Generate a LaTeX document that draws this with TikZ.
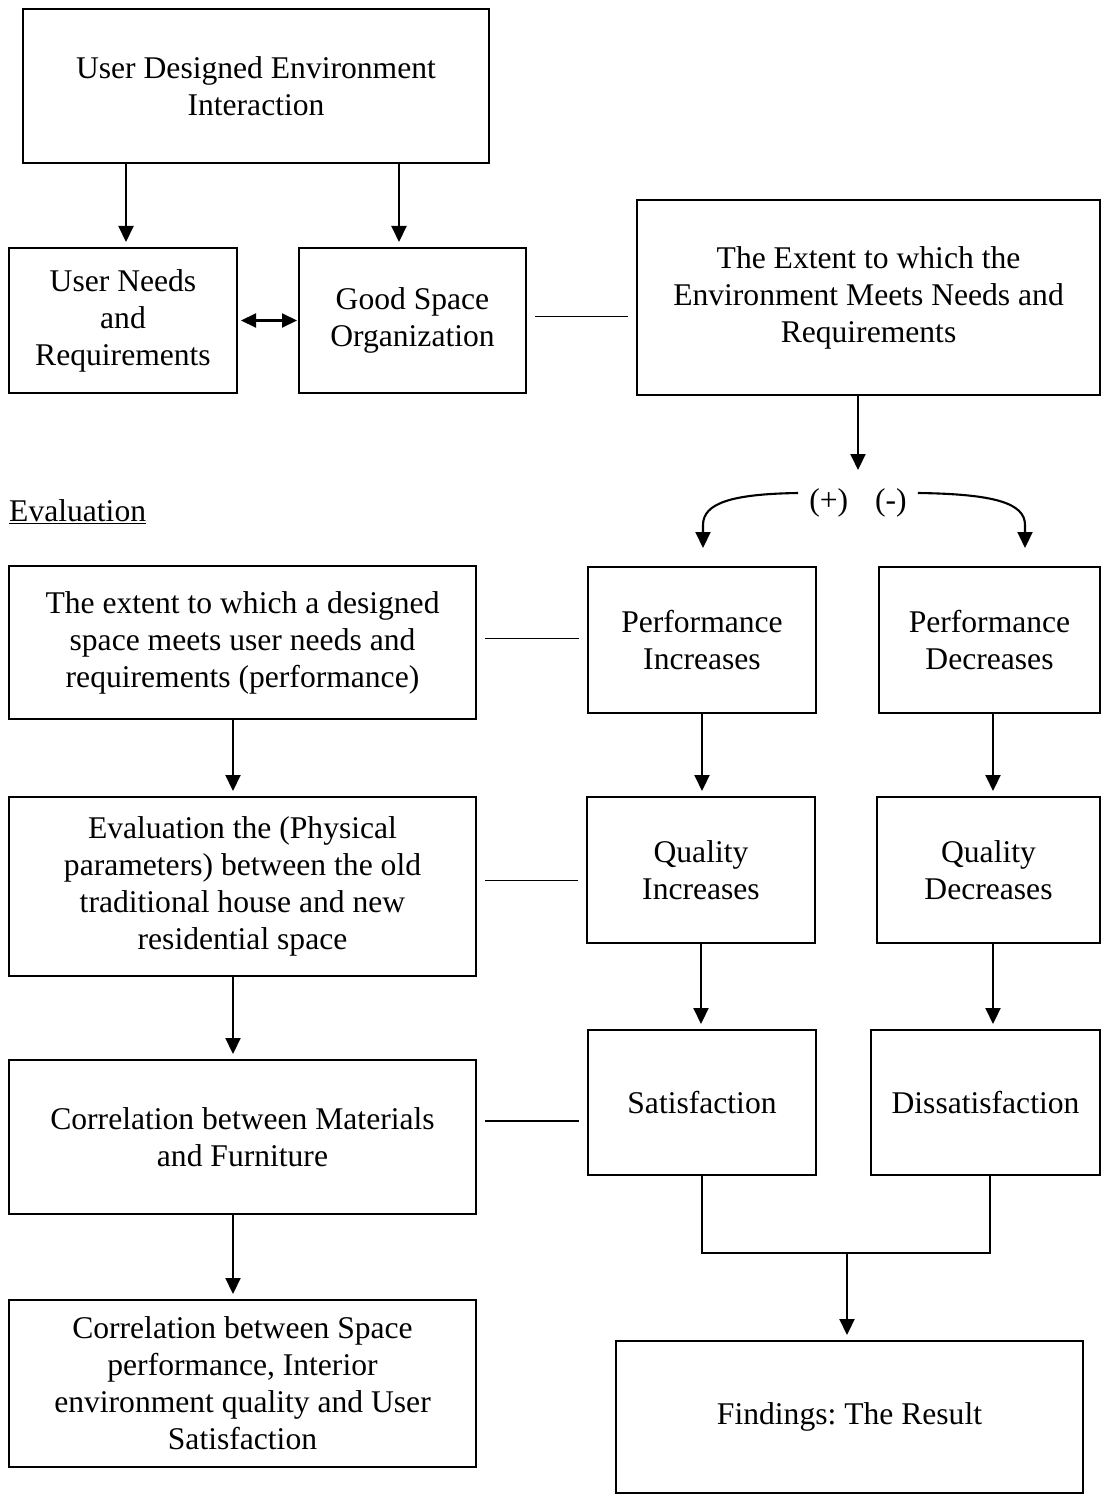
\documentclass[tikz,border=0pt]{standalone}
\usepackage{fontspec}
\setmainfont{Liberation Serif}
\usetikzlibrary{arrows.meta}
\newcommand\boxfont{\fontsize{31.6}{37}\selectfont}
\frenchspacing
\begin{document}
\begin{tikzpicture}[x=1pt,y=-1pt,
  box/.style={draw, line width=2.3pt, inner sep=0pt, outer sep=0pt, align=center, font=\boxfont},
  arr/.style={line width=2.1pt, -{Triangle[width=15pt,length=16pt]}, shorten >=6pt},
  dbl/.style={line width=2.1pt, {Triangle[width=14pt,length=15pt]}-{Triangle[width=14pt,length=15pt]}, shorten >=2pt, shorten <=4pt},
  curv/.style={line width=2.1pt, -{Triangle[width=15pt,length=16pt]}},
  link/.style={line width=1.2pt, shorten <=9pt, shorten >=9pt},
  brk/.style={line width=1.1pt}]
\useasboundingbox (0,0) rectangle (1102,1495);

% top part
\node[box, minimum width=466pt, minimum height=154pt] (ude) at (256,86) {User Designed Environment\\Interaction};
\node[box, minimum width=228pt, minimum height=145pt] (un) at (123,320.5) {User Needs\\and\\Requirements};
\node[box, minimum width=227pt, minimum height=145pt] (gs) at (412.5,320.5) {Good Space\\Organization};
\node[box, minimum width=463pt, minimum height=195pt] (ext) at (868.5,297.5) {The Extent to which the\\Environment Meets Needs and\\Requirements};

\draw[arr] ([xshift=3pt]un.north |- ude.south) -- ([xshift=3pt]un.north);
\draw[arr] ([xshift=-13.5pt]gs.north |- ude.south) -- ([xshift=-13.5pt]gs.north);
\draw[dbl] (un.east) -- (gs.east -| gs.west);
\draw[link] ([yshift=4pt]gs.east) -- ([yshift=4pt]gs.east -| ext.west);

% split
\node[font=\boxfont, inner sep=0pt] (pm) at (858,503) {(+)\hspace{27pt}(-)};
\coordinate (pmtop) at (858,470);
\coordinate (ltip) at (703,548);
\coordinate (rtip) at (1025,548);
\draw[curv] (pm |- ext.south) -- (pmtop);
\draw[curv] ([shift={(-11pt,10pt)}]pm.west) .. controls (732,494) and (703,503) .. (703,525) -- (ltip);
\draw[curv] ([shift={(11pt,10pt)}]pm.east) .. controls (994,494) and (1025,503) .. (1025,525) -- (rtip);

\node[anchor=west, font=\boxfont, inner sep=0pt] (eval) at (9,512) {\underline{Evaluation}};

% left column
\node[box, minimum width=467pt, minimum height=153pt] (b5) at (242.5,642.5) {The extent to which a designed\\space meets user needs and\\requirements (performance)};
\node[box, minimum width=467pt, minimum height=179pt] (b6) at (242.5,886.5) {Evaluation the (Physical\\parameters) between the old\\traditional house and new\\residential space};
\node[box, minimum width=467pt, minimum height=154pt] (b7) at (242.5,1137) {Correlation between Materials\\and Furniture};
\node[box, minimum width=467pt, minimum height=167pt] (b8) at (242.5,1383.5) {Correlation between Space\\performance, Interior\\environment quality and User\\Satisfaction};

\draw[arr] ([xshift=-9.5pt]b5.south) -- ([xshift=-9.5pt]b6.north);
\draw[arr] ([xshift=-9.5pt]b6.south) -- ([xshift=-9.5pt]b7.north);
\draw[arr] ([xshift=-9.5pt]b7.south) -- ([xshift=-9.5pt]b8.north);

% middle column
\node[box, minimum width=228pt, minimum height=146pt] (pinc) at (702,640) {Performance\\Increases};
\node[box, minimum width=228pt, minimum height=146pt] (qinc) at (701,870) {Quality\\Increases};
\node[box, minimum width=228pt, minimum height=145pt] (sat) at (702,1102.5) {Satisfaction};

% right column
\node[box, minimum width=221pt, minimum height=146pt] (pdec) at (989.5,640) {Performance\\Decreases};
\node[box, minimum width=223pt, minimum height=146pt] (qdec) at (988.5,870) {Quality\\Decreases};
\node[box, minimum width=229pt, minimum height=145pt] (dis) at (985.5,1102.5) {Dissatisfaction};

\draw[arr] (pinc.south) -- (pinc.south |- qinc.north);
\draw[arr] (qinc.south) -- (qinc.south |- sat.north);
\draw[arr] ([xshift=3.5pt]pdec.south) -- ([xshift=3.5pt]pdec.south |- qdec.north);
\draw[arr] ([xshift=4.5pt]qdec.south) -- ([xshift=4.5pt]qdec.south |- dis.north);

% horizontal links
\draw[link] ([yshift=4pt]b5.east) -- ([yshift=4pt]b5.east -| pinc.west);
\draw[link] ([yshift=6pt]b6.east) -- ([yshift=6pt]b6.east -| qinc.west);
\draw[link] ([yshift=16pt]b7.east) -- ([yshift=16pt]b7.east -| sat.west);

% findings
\node[box, minimum width=467pt, minimum height=152pt] (find) at (849.5,1417) {Findings: The Result};
\coordinate (join) at (847,1253);
\draw[brk] (sat.south) |- (join) -| ([xshift=4.5pt]dis.south);
\draw[arr] (join) -- (join |- find.north);
\end{tikzpicture}
\end{document}
